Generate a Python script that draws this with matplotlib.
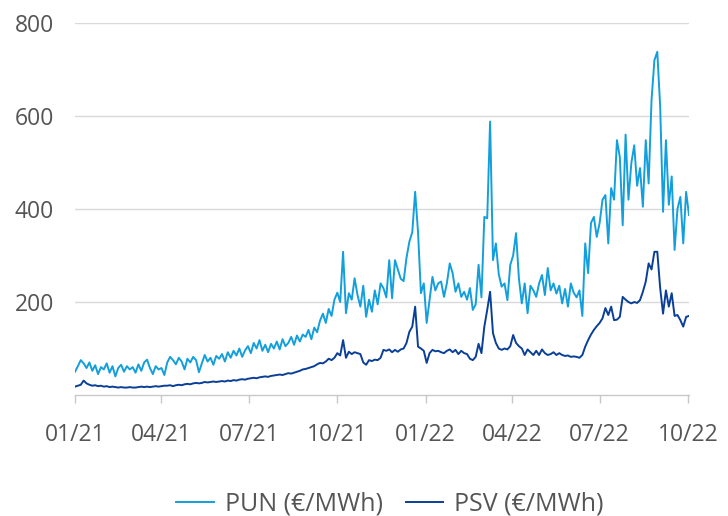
import numpy as np
import matplotlib
matplotlib.use("Agg")
import matplotlib.pyplot as plt
import matplotlib.dates as mdates

plt.rcParams['font.family'] = ['Open Sans', 'DejaVu Sans']

start_date = "2021-01-01"
step_days = 3

pun = [
    50, 62, 75, 68, 58, 70, 52, 64, 45, 60,
    55, 68, 48, 62, 40, 58, 65, 50, 62, 55,
    60, 48, 66, 52, 70, 76, 58, 45, 62, 55,
    58, 43, 70, 82, 75, 66, 80, 72, 55, 78,
    70, 82, 75, 49, 68, 86, 72, 80, 65, 84,
    78, 88, 72, 92, 80, 95, 85, 100, 82, 96,
    105, 90, 112, 100, 118, 95, 108, 92, 110, 100,
    115, 98, 120, 105, 112, 125, 108, 128, 115, 130,
    125, 140, 120, 145, 135, 160, 175, 155, 185, 170,
    205, 220, 200, 308, 176, 219, 205, 251, 215, 190,
    235, 168, 205, 179, 225, 195, 240, 230, 210, 290,
    208, 290, 270, 250, 245, 295, 330, 350, 437, 350,
    219, 240, 155, 204, 254, 225, 240, 244, 211, 240,
    283, 262, 222, 240, 211, 222, 205, 230, 183, 195,
    280, 210, 383, 380, 588, 290, 326, 260, 233, 240,
    204, 280, 300, 348, 250, 197, 240, 176, 235, 225,
    211, 240, 258, 215, 273, 225, 240, 218, 235, 197,
    228, 190, 240, 220, 210, 225, 170, 326, 262, 370,
    383, 340, 370, 420, 430, 326, 445, 420, 548, 512,
    365, 560, 420, 499, 537, 450, 488, 405, 548, 455,
    634, 720, 738, 620, 394, 548, 409, 470, 312, 400,
    426, 326, 437, 387,
]

psv = [
    18, 20, 22, 31, 25, 22, 20, 21, 19, 20,
    18, 19, 17, 18, 17, 16, 17, 16, 16, 17,
    16, 16, 17, 18, 17, 18, 17, 18, 19, 18,
    19, 20, 20, 21, 19, 21, 22, 21, 23, 24,
    23, 25, 26, 25, 26, 28, 27, 28, 29, 28,
    29, 30, 29, 31, 30, 32, 31, 33, 34, 33,
    35, 36, 37, 36, 38, 39, 40, 39, 41, 42,
    43, 44, 43, 45, 47, 46, 48, 50, 52, 55,
    56, 58, 60, 62, 66, 69, 68, 72, 78, 75,
    80, 90, 85, 118, 80, 93, 88, 92, 90, 88,
    70, 65, 75, 73, 76, 75, 80, 97, 95, 98,
    92, 97, 93, 98, 100, 112, 136, 147, 190, 104,
    100, 95, 69, 90, 97, 94, 95, 92, 90, 95,
    98, 92, 97, 88, 95, 90, 88, 78, 75, 82,
    110, 90, 147, 183, 222, 133, 112, 100, 97, 100,
    98, 105, 129, 112, 105, 100, 86, 98, 92, 86,
    95, 86, 98, 90, 86, 88, 92, 86, 90, 86,
    84, 85, 82, 83, 82, 80, 86, 104, 118, 130,
    140, 148, 155, 165, 187, 172, 190, 161, 162, 168,
    211, 205, 200, 197, 200, 198, 204, 222, 244, 283,
    270, 308, 308, 230, 175, 225, 190, 219, 170, 172,
    161, 147, 168, 170,
]

tick_dates = ["2021-01-01", "2021-04-01", "2021-07-01", "2021-10-01",
              "2022-01-01", "2022-04-01", "2022-07-01", "2022-10-01"]
y_ticks = [200, 400, 600, 800]
series_names = ["PUN (€/MWh)", "PSV (€/MWh)"]
colors = ["#139fdc", "#0a3f97"]

dates = np.datetime64(start_date) + np.arange(len(pun)) * np.timedelta64(step_days, 'D')
dates = dates.astype('datetime64[D]').astype(object)

fig = plt.figure(figsize=(7.28, 5.16), dpi=100)
ax = fig.add_axes([75/728, (516-395)/516, (689-75)/728, (395-23)/516])

ax.plot(dates, pun, color=colors[0], lw=1.4, label=series_names[0])
ax.plot(dates, psv, color=colors[1], lw=1.4, label=series_names[1])

ax.set_ylim(0, 800)
ax.set_xlim(dates[0], dates[-1])
ax.set_yticks(y_ticks)
ax.yaxis.grid(True, color="#d9d9d9", lw=1)
ax.set_axisbelow(True)
for s in ["left", "right", "top"]:
    ax.spines[s].set_visible(False)
ax.spines["bottom"].set_color("#c8c8c8")
ax.spines["bottom"].set_linewidth(1)

tds = [np.datetime64(d).astype(object) for d in tick_dates]
ax.set_xticks(tds)
ax.xaxis.set_major_formatter(mdates.DateFormatter("%m/%y"))
ax.tick_params(axis="x", colors="#c8c8c8", length=6, width=1, labelcolor="#555555",
               labelsize=16.5, pad=14)
ax.tick_params(axis="y", length=0, labelcolor="#555555", labelsize=16.5, pad=15)

fig.legend(loc="center", bbox_to_anchor=(390/728, 12/516), ncol=2, frameon=False,
           fontsize=18, labelcolor="#555555", handlelength=1.5, columnspacing=0.9,
           handletextpad=0.45)

fig.savefig("out.png", dpi=100)
